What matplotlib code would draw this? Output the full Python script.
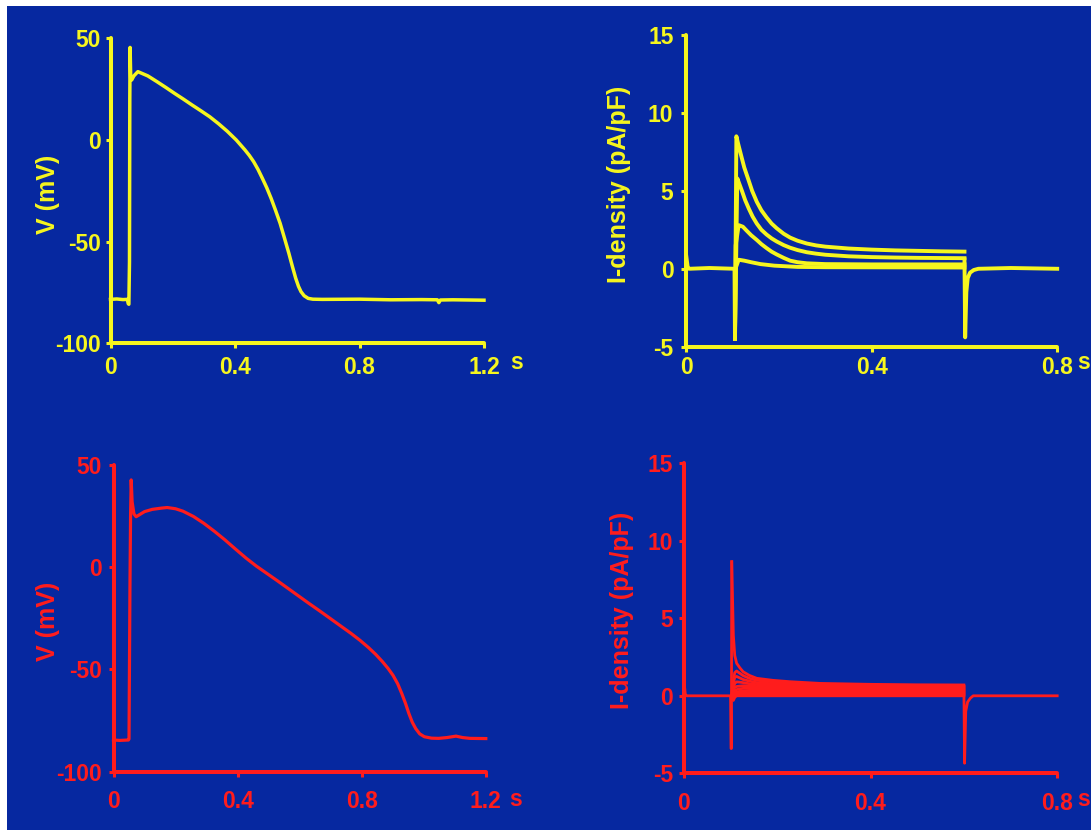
import matplotlib
matplotlib.use("Agg")
import matplotlib.pyplot as plt
from matplotlib.patches import Rectangle

plt.rcParams['font.family'] = ['Liberation Sans', 'DejaVu Sans']
plt.rcParams['font.weight'] = 'bold'
plt.rcParams['axes.unicode_minus'] = False

BG = '#0628a0'
YEL = '#f6f61e'
RED = '#ff1c1c'

# ---------------- data ----------------
# Top-left: action potential (yellow)
ap1_t = [0.0, 0.02, 0.04, 0.054, 0.057, 0.059, 0.061, 0.062, 0.063, 0.065, 0.068, 0.075, 0.088,
         0.12, 0.149, 0.178, 0.206, 0.234, 0.262, 0.29, 0.319, 0.347, 0.375, 0.404, 0.432,
         0.446, 0.460, 0.474, 0.488, 0.502, 0.516, 0.530, 0.545, 0.559, 0.573, 0.584, 0.595,
         0.604, 0.612, 0.622, 0.635, 0.65, 0.68, 0.8, 0.9, 1.0, 1.05, 1.055, 1.06, 1.1, 1.2]
ap1_v = [-78.4, -78.2, -78.5, -78.4, -80.5, -80.8, -60.0, 20.0, 45.5, 30.0, 29.5, 31.5, 33.6,
         31.5, 28.7, 25.8, 22.9, 20.1, 17.2, 14.4, 11.4, 8.0, 4.3, 0.0, -4.9,
         -7.6, -10.7, -14.5, -18.9, -23.5, -28.7, -34.5, -41.0, -48.3, -55.7, -62.0, -68.0,
         -72.0, -74.6, -76.6, -77.9, -78.3, -78.4, -78.3, -78.6, -78.5, -78.6, -80.0, -78.7,
         -78.6, -78.8]

# Top-right: current density family (yellow)
i1_pre_t = [0.0, 0.003, 0.006, 0.05, 0.104, 0.105]
i1_pre_v = [0.8, 0.1, 0.0, 0.05, 0.0, -4.5]
i1_step_t = [
    [0.105, 0.108, 0.112, 0.118, 0.125, 0.133, 0.142, 0.152, 0.162, 0.173, 0.184, 0.195,
     0.21, 0.224, 0.24, 0.26, 0.28, 0.30, 0.35, 0.40, 0.45, 0.50, 0.55, 0.60],
    [0.105, 0.110, 0.115, 0.120, 0.127, 0.135, 0.143, 0.152, 0.162, 0.173, 0.184, 0.195,
     0.21, 0.224, 0.24, 0.26, 0.28, 0.30, 0.35, 0.40, 0.45, 0.50, 0.55, 0.60],
    [0.105, 0.1065, 0.113, 0.122, 0.130, 0.14, 0.152, 0.162, 0.173, 0.184, 0.195, 0.21,
     0.224, 0.24, 0.26, 0.30, 0.40, 0.60],
    [0.105, 0.106, 0.113, 0.125, 0.14, 0.16, 0.19, 0.24, 0.30, 0.60],
]
i1_step_v = [
    [-4.5, 8.5, 8.0, 7.3, 6.5, 5.8, 5.0, 4.3, 3.75, 3.3, 2.9, 2.6,
     2.25, 2.0, 1.8, 1.62, 1.5, 1.42, 1.3, 1.23, 1.18, 1.15, 1.12, 1.1],
    [-4.5, 5.8, 5.4, 5.0, 4.4, 3.85, 3.35, 2.9, 2.5, 2.2, 1.95, 1.75,
     1.52, 1.35, 1.2, 1.06, 0.97, 0.9, 0.8, 0.75, 0.72, 0.7, 0.69, 0.68],
    [-4.5, 1.5, 2.8, 2.7, 2.45, 2.15, 1.85, 1.58, 1.33, 1.1, 0.92, 0.7,
     0.52, 0.42, 0.35, 0.3, 0.28, 0.28],
    [-4.5, 0.0, 0.58, 0.52, 0.42, 0.3, 0.2, 0.12, 0.1, 0.08],
]
i1_post_t = [0.600, 0.6015, 0.604, 0.607, 0.612, 0.620, 0.630, 0.70, 0.80]
i1_post_v = [0.6, -4.4, -1.5, -0.6, -0.25, -0.08, 0.0, 0.05, 0.0]

# Bottom-left: action potential (red)
ap2_t = [0.0, 0.02, 0.048, 0.050, 0.053, 0.055, 0.057, 0.060, 0.066, 0.073, 0.100, 0.125,
         0.154, 0.173, 0.2, 0.224, 0.258, 0.291, 0.325, 0.359, 0.393, 0.427, 0.46, 0.494,
         0.528, 0.562, 0.596, 0.630, 0.664, 0.698, 0.731, 0.765, 0.795, 0.822, 0.845,
         0.867, 0.885, 0.901, 0.916, 0.929, 0.941, 0.952, 0.963, 0.974, 0.987, 1.002,
         1.025, 1.048, 1.075, 1.104, 1.125, 1.149, 1.2]
ap2_v = [-84.5, -84.7, -84.5, -84.0, -10.0, 25.0, 42.7, 32.0, 26.0, 24.7, 27.2, 28.3,
         28.9, 29.2, 28.6, 27.4, 24.8, 21.5, 17.6, 13.4, 8.9, 4.5, 0.6, -3.0,
         -6.6, -10.3, -14.0, -17.7, -21.3, -25.0, -28.6, -32.3, -35.8, -39.3, -42.6,
         -46.2, -49.5, -52.9, -57.0, -61.7, -66.5, -71.5, -75.8, -78.9, -81.5, -82.9,
         -83.6, -83.7, -83.3, -82.6, -83.3, -83.7, -83.8]

# Bottom-right: current density family (red)
i2_pre_t = [0.0, 0.003, 0.006, 0.05, 0.100, 0.1010, 0.1018, 0.1025]
i2_pre_v = [1.0, 0.1, 0.0, 0.0, 0.0, -3.4, -3.4, 8.65]
i2_step_t = [0.1025, 0.106, 0.109, 0.113, 0.12, 0.127, 0.14, 0.156, 0.19, 0.227, 0.292,
             0.40, 0.50, 0.60]
i2_step_v = [
    [8.65, 3.9, 2.6, 2.1, 1.8, 1.55, 1.32, 1.13, 1.0, 0.91, 0.80, 0.74, 0.71, 0.70],
    [0.0, 1.0, 1.5, 1.6, 1.45, 1.3, 1.13, 1.0, 0.9, 0.82, 0.72, 0.66, 0.64, 0.63],
    [0.0, 0.8, 1.2, 1.25, 1.15, 1.05, 0.95, 0.85, 0.78, 0.72, 0.63, 0.58, 0.56, 0.56],
    [0.0, 0.5, 0.8, 0.9, 0.88, 0.85, 0.78, 0.72, 0.66, 0.62, 0.54, 0.50, 0.49, 0.49],
    [0.0, 0.3, 0.55, 0.6, 0.63, 0.65, 0.63, 0.6, 0.56, 0.52, 0.46, 0.43, 0.42, 0.42],
    [0.0, 0.2, 0.35, 0.4, 0.45, 0.48, 0.49, 0.48, 0.45, 0.42, 0.38, 0.36, 0.35, 0.35],
    [0.0, 0.1, 0.2, 0.25, 0.29, 0.32, 0.35, 0.36, 0.35, 0.33, 0.30, 0.29, 0.28, 0.28],
    [0.0, 0.05, 0.1, 0.15, 0.18, 0.2, 0.22, 0.24, 0.24, 0.24, 0.22, 0.21, 0.21, 0.21],
    [0.0, 0.02, 0.05, 0.08, 0.09, 0.1, 0.12, 0.13, 0.14, 0.14, 0.14, 0.14, 0.14, 0.14],
    [0.0, 0.0, 0.02, 0.03, 0.04, 0.05, 0.055, 0.06, 0.065, 0.07, 0.07, 0.07, 0.07, 0.07],
    [0.0, -0.3, -0.1, 0.0, 0.0, 0.0, 0.0, 0.0, 0.0, 0.0, 0.0, 0.0, 0.0, 0.0],
]
i2_post_t = [0.600, 0.6015, 0.604, 0.608, 0.614, 0.620, 0.70, 0.80]
i2_post_v = [0.6, -4.35, -1.0, -0.4, -0.15, 0.0, 0.0, 0.0]

v_ticks = [-100, -50, 0, 50]
v_ticklabels = ['-100', '-50', '0', '50']
i_ticks = [-5, 0, 5, 10, 15]
i_ticklabels = ['-5', '0', '5', '10', '15']
t_ticks_ap = [0, 0.4, 0.8, 1.2]
t_ticklabels_ap = ['0', '0.4', '0.8', '1.2']
t_ticks_i = [0, 0.4, 0.8]
t_ticklabels_i = ['0', '0.4', '0.8']

# ---------------- figure ----------------
W, H = 1091, 832
fig = plt.figure(figsize=(W / 100, H / 100), dpi=100, facecolor='white')
fig.patches.append(Rectangle((7 / W, 2 / H), 1 - 7 / W, 1 - 8 / H,
                             transform=fig.transFigure, facecolor=BG,
                             edgecolor='none', zorder=-10))


def px_axes(l, r, t, b):
    return fig.add_axes([l / W, 1 - b / H, (r - l) / W, (b - t) / H])


def style(ax, color, xlim, ylim, xt, xtl, yt, ytl, xpad, ypad):
    ax.set_facecolor('none')
    ax.set_xlim(*xlim)
    ax.set_ylim(*ylim)
    for s in ['top', 'right']:
        ax.spines[s].set_visible(False)
    for s in ['left', 'bottom']:
        ax.spines[s].set_color(color)
        ax.spines[s].set_linewidth(2.9)
        ax.spines[s].set_capstyle('round')
    ax.set_xticks(xt)
    ax.set_xticklabels(xtl)
    ax.set_yticks(yt)
    ax.set_yticklabels(ytl)
    ax.tick_params(axis='both', colors=color, direction='out', length=3.5,
                   width=2.2, labelsize=16.5)
    ax.tick_params(axis='x', pad=xpad)
    ax.tick_params(axis='y', pad=ypad)
    for lab in ax.get_xticklabels() + ax.get_yticklabels():
        lab.set_fontweight('bold')


# Panel 1
ax1 = px_axes(110.5, 484, 38.3, 343.3)
style(ax1, YEL, (0, 1.2), (-100, 50), t_ticks_ap, t_ticklabels_ap, v_ticks, v_ticklabels, 5.5, 3.6)
ax1.plot(ap1_t, ap1_v, color=YEL, lw=2.5, solid_joinstyle='round', clip_on=False)

# Panel 2
ax2 = px_axes(686.3, 1057.2, 35, 346.7)
style(ax2, YEL, (0, 0.8), (-5, 15), t_ticks_i, t_ticklabels_i, i_ticks, i_ticklabels, 3.0, 5.8)
ax2.plot(i1_pre_t, i1_pre_v, color=YEL, lw=2.8, solid_joinstyle='round', clip_on=False)
for tt, vv in zip(i1_step_t, i1_step_v):
    ax2.plot(tt, vv, color=YEL, lw=2.8, solid_joinstyle='round', clip_on=False)
ax2.plot(i1_post_t, i1_post_v, color=YEL, lw=2.8, solid_joinstyle='round', clip_on=False)

# Panel 3
ax3 = px_axes(113.5, 485.8, 465, 771.7)
style(ax3, RED, (0, 1.2), (-100, 50), t_ticks_ap, t_ticklabels_ap, v_ticks, v_ticklabels, 10, 5)
ax3.plot(ap2_t, ap2_v, color=RED, lw=2.3, solid_joinstyle='round', clip_on=False)

# Panel 4
ax4 = px_axes(683.9, 1057.2, 463.3, 773.3)
style(ax4, RED, (0, 0.8), (-5, 15), t_ticks_i, t_ticklabels_i, i_ticks, i_ticklabels, 10, 4.3)
ax4.plot(i2_pre_t, i2_pre_v, color=RED, lw=2.0, clip_on=False)
for vv in i2_step_v:
    ax4.plot(i2_step_t, vv, color=RED, lw=2.0, solid_joinstyle='round', clip_on=False)
ax4.plot(i2_post_t, i2_post_v, color=RED, lw=2.0, solid_joinstyle='round', clip_on=False)

# Axis titles and units
fig.text(47.5 / W, 1 - 194 / H, 'V (mV)', rotation=90, ha='center', va='center',
         color=YEL, fontsize=18, fontweight='bold')
fig.text(619 / W, 1 - 184 / H, 'I-density (pA/pF)', rotation=90, ha='center', va='center',
         color=YEL, fontsize=18, fontweight='bold')
fig.text(47.5 / W, 1 - 621 / H, 'V (mV)', rotation=90, ha='center', va='center',
         color=RED, fontsize=18, fontweight='bold')
fig.text(622.5 / W, 1 - 610 / H, 'I-density (pA/pF)', rotation=90, ha='center', va='center',
         color=RED, fontsize=18, fontweight='bold')

fig.text(517 / W, 1 - 363 / H, 's', ha='center', va='center', color=YEL,
         fontsize=16.5, fontweight='bold')
fig.text(1084 / W, 1 - 363 / H, 's', ha='center', va='center', color=YEL,
         fontsize=16.5, fontweight='bold')
fig.text(515.6 / W, 1 - 800 / H, 's', ha='center', va='center', color=RED,
         fontsize=16.5, fontweight='bold')
fig.text(1084 / W, 1 - 800 / H, 's', ha='center', va='center', color=RED,
         fontsize=16.5, fontweight='bold')

fig.savefig('out.png', dpi=100, facecolor='white')
